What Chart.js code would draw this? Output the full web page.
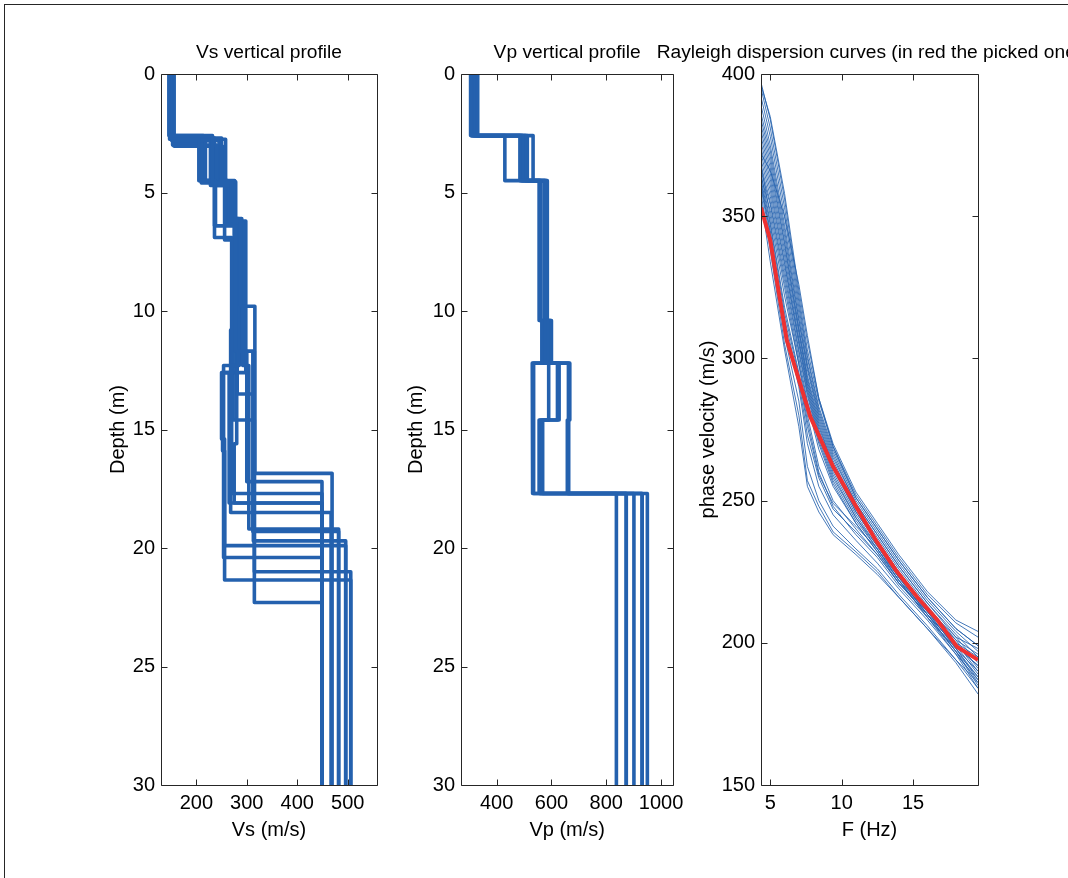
<!DOCTYPE html>
<html>
<head>
<meta charset="utf-8">
<script src="https://cdn.jsdelivr.net/npm/chart.js@4.4.0/dist/chart.umd.min.js"></script>
<style>
  html, body { margin: 0; padding: 0; background: #fff; }
  body { width: 1068px; height: 878px; position: relative; overflow: hidden; }
  .frame { position: absolute; left: 4px; top: 4px; width: 1200px; height: 1000px;
           border-top: 1px solid #262626; border-left: 1px solid #262626; }
  canvas { position: absolute; top: 0; }
</style>
</head>
<body>
<div class="frame"></div>
<canvas id="vsChart" width="337" height="878" style="left:60px;width:337px;height:878px"></canvas>
<canvas id="vpChart" width="310" height="878" style="left:380px;width:310px;height:878px"></canvas>
<canvas id="dispChart" width="428" height="878" style="left:640px;width:428px;height:878px"></canvas>
<script>
// tick labels
const depthTicks = [0, 5, 10, 15, 20, 25, 30];
const vsTicks = [200, 300, 400, 500];
const vpTicks = [400, 600, 800, 1000];
const freqTicks = [5, 10, 15];
const phaseTicks = [150, 200, 250, 300, 350, 400];

// Vs models: layer bottoms (m) and Vs per layer (last value = half-space)
const vsBottoms = [
  [2.6, 4.6, 6.2, 9.8, 16.85],
  [2.7, 4.5, 6.4, 11.7, 17.2],
  [2.8, 4.7, 6.1, 12.3, 17.7],
  [2.9, 4.6, 7.0, 12.6, 18.1],
  [2.7, 4.55, 6.2, 10.8, 18.5],
  [3.0, 4.6, 6.3, 12.3, 19.2],
  [2.65, 4.5, 6.1, 11.7, 19.3],
  [2.8, 4.65, 6.4, 13.5, 19.7],
  [2.75, 4.6, 6.9, 12.6, 15.4, 19.9],
  [2.9, 4.5, 6.2, 12.3, 20.4],
  [2.7, 4.7, 6.3, 11.7, 21.0],
  [2.8, 4.6, 6.2, 12.6, 15.9, 21.35],
  [2.6, 4.55, 6.25, 9.3, 14.6, 22.3],
  [3.05, 4.6, 6.15, 7.7, 15.6, 18.1]
];
const vsValues = [
  [146, 232, 270, 288, 316, 469],
  [150, 205, 238, 278, 300, 449],
  [152, 228, 275, 283, 270, 449],
  [155, 210, 256, 272, 265, 449],
  [148, 250, 265, 275, 268, 467],
  [153, 240, 258, 292, 304, 482],
  [149, 218, 276, 290, 312, 482],
  [151, 245, 236, 281, 313, 496],
  [147, 258, 236, 270, 250, 256, 496],
  [154, 207, 262, 285, 254, 449],
  [150, 236, 270, 295, 315, 506],
  [152, 230, 266, 298, 252, 256, 506],
  [146, 214, 278, 289, 273, 315, 449],
  [156, 252, 262, 287, 280, 275, 449]
];

// Vp models: shared layer bottoms, Vp per layer (last value = half-space)
const vpBottoms = [2.6, 4.5, 10.4, 12.2, 14.6, 17.7];
const vpValues = [
  [305, 430, 555, 565, 530, 532, 837],
  [310, 485, 558, 575, 590, 555, 873],
  [315, 495, 562, 585, 622, 560, 901],
  [320, 505, 578, 592, 628, 568, 931],
  [326, 512, 582, 598, 662, 658, 950],
  [331, 533, 585, 600, 667, 663, 931],
  [308, 490, 575, 588, 535, 535, 873]
];

// Rayleigh dispersion curves
const dispFreq = [4.35, 5, 6, 7, 7.6, 8.4, 9.4, 11, 12.5, 14, 16, 18, 19.55];
const dispVel = [
  [397, 384, 356, 322, 303, 285, 269, 252, 241, 230, 217, 207, 202],
  [395, 381, 353, 320, 301, 283, 268, 251, 240, 229, 216, 205, 199],
  [392, 378, 350, 318, 300, 282, 267, 250, 239, 228, 215, 204, 197],
  [389, 375, 347, 316, 298, 281, 266, 249, 238, 227, 214, 203, 195],
  [386, 373, 345, 314, 297, 280, 265, 249, 238, 227, 214, 202, 193],
  [384, 371, 343, 313, 296, 279, 264, 248, 237, 226, 213, 201, 191],
  [382, 369, 341, 311, 294, 278, 263, 247, 236, 225, 212, 200, 190],
  [380, 367, 340, 310, 293, 277, 262, 247, 236, 225, 212, 199, 189],
  [378, 365, 338, 309, 292, 276, 262, 246, 235, 224, 211, 198, 188],
  [376, 363, 336, 307, 291, 275, 261, 246, 235, 224, 211, 198, 187],
  [374, 361, 334, 306, 290, 274, 260, 245, 234, 223, 210, 197, 186],
  [372, 359, 333, 305, 289, 273, 259, 244, 234, 223, 210, 197, 185],
  [370, 357, 331, 303, 288, 272, 258, 244, 233, 222, 209, 196, 184],
  [368, 355, 329, 302, 287, 271, 257, 243, 233, 222, 209, 197, 188],
  [366, 354, 327, 300, 285, 270, 256, 242, 232, 221, 210, 199, 192],
  [364, 352, 325, 298, 284, 268, 255, 242, 232, 222, 211, 201, 196],
  [396, 385, 358, 324, 306, 286, 270, 253, 242, 231, 218, 208, 204],
  [372, 366, 350, 326, 308, 286, 269, 251, 240, 229, 216, 205, 199],
  [362, 345, 312, 290, 270, 255, 245, 236, 228, 219, 208, 196, 187],
  [360, 342, 308, 285, 262, 250, 241, 233, 226, 217, 206, 194, 184],
  [358, 338, 305, 280, 257, 248, 239, 232, 225, 216, 205, 193, 182],
  [356, 334, 303, 276, 255, 246, 238, 231, 224, 216, 205, 194, 186],
  [365, 348, 318, 295, 278, 260, 248, 238, 230, 220, 209, 198, 190],
  [368, 350, 322, 298, 280, 262, 250, 240, 231, 221, 210, 199, 192],
  [361, 344, 314, 292, 273, 258, 247, 239, 231, 221, 211, 200, 195],
  [363, 347, 316, 294, 276, 259, 249, 241, 233, 223, 212, 202, 198]
];
const pickedFreq = [4.35, 5.0, 5.6, 6.15, 6.85, 7.8, 9.4, 11.0, 12.4, 13.8, 15.3, 16.7, 18.1, 19.55];
const pickedVel = [353, 341.5, 323, 306.5, 295, 279.5, 262, 248, 236, 225.5, 216, 208, 198.5, 194];

const maxDepth = 30;
const blue = '#2461ae';
const fontFamily = "'Liberation Sans', Arial, Helvetica, sans-serif";
const textFont = { family: fontFamily, size: 20 };

// turn layer bottoms + velocities into a staircase
function stairs(bottoms, vels) {
  const pts = [];
  let top = 0;
  vels.forEach((v, i) => {
    const bot = i < bottoms.length ? bottoms[i] : maxDepth;
    pts.push({ x: v, y: top }, { x: v, y: bot });
    top = bot;
  });
  return pts;
}

// matlab-like box with inward ticks, plus the panel title
const matlabBox = {
  id: 'matlabBox',
  afterDatasetsDraw(chart, args, opts) {
    const { ctx, chartArea: a, scales: { x, y } } = chart;
    const L = Math.floor(a.left) + 0.5, R = Math.floor(a.right) + 0.5;
    const T = Math.floor(a.top) + 0.5, B = Math.floor(a.bottom) + 0.5;
    const len = 6;
    ctx.save();
    ctx.strokeStyle = '#262626';
    ctx.lineWidth = 1;
    ctx.beginPath();
    x.ticks.forEach(t => {
      const px = Math.round(x.getPixelForValue(t.value)) + 0.5;
      ctx.moveTo(px, B); ctx.lineTo(px, B - len);
      ctx.moveTo(px, T); ctx.lineTo(px, T + len);
    });
    y.ticks.forEach(t => {
      const py = Math.round(y.getPixelForValue(t.value)) + 0.5;
      ctx.moveTo(L, py); ctx.lineTo(L + len, py);
      ctx.moveTo(R, py); ctx.lineTo(R - len, py);
    });
    ctx.rect(L, T, R - L, B - T);
    ctx.stroke();
    ctx.fillStyle = '#000';
    ctx.font = '19.2px ' + fontFamily;
    ctx.textAlign = 'center';
    ctx.textBaseline = 'alphabetic';
    ctx.fillText(opts.text, (a.left + a.right) / 2, 58);
    ctx.restore();
  }
};

function axis(min, max, ticks, title, horizontal, size, titlePad, reverse) {
  return {
    type: 'linear',
    min: min,
    max: max,
    reverse: !!reverse,
    grid: { display: false, drawTicks: false },
    border: { display: false },
    afterBuildTicks: (s) => { s.ticks = ticks.map(v => ({ value: v })); },
    afterFit: (s) => { if (horizontal) s.height = size; else s.width = size; },
    ticks: {
      color: '#000', font: textFont, padding: 6,
      autoSkip: false, maxRotation: 0,
      callback: (v) => String(v)
    },
    title: {
      display: true, text: title, color: '#000', font: textFont,
      padding: horizontal ? { top: 0, bottom: titlePad } : { top: titlePad, bottom: 0 }
    }
  };
}

function panel(id, title, datasets, padRight, xScale, yScale) {
  return new Chart(document.getElementById(id), {
    type: 'scatter',
    data: { datasets: datasets },
    options: {
      responsive: false,
      animation: false,
      events: [],
      layout: { padding: { top: 74, right: padRight, bottom: 0, left: 0 } },
      elements: { point: { radius: 0 }, line: { tension: 0 } },
      plugins: {
        legend: { display: false },
        tooltip: { enabled: false },
        matlabBox: { text: title }
      },
      scales: { x: xScale, y: yScale }
    },
    plugins: [matlabBox]
  });
}

const profileStyle = {
  showLine: true, borderColor: blue, borderWidth: 3.6,
  borderJoinStyle: 'round', borderCapStyle: 'butt', clip: 0
};

panel('vsChart', 'Vs vertical profile',
  vsValues.map((v, i) => Object.assign({ data: stairs(vsBottoms[i], v) }, profileStyle)),
  20,
  axis(130, 558, vsTicks, 'Vs (m/s)', true, 93, 36),
  axis(0, maxDepth, depthTicks, 'Depth (m)', false, 101, 46.5, true));

panel('vpChart', 'Vp vertical profile',
  vpValues.map(v => Object.assign({ data: stairs(vpBottoms, v) }, profileStyle)),
  12,
  axis(270, 1045, vpTicks, 'Vp (m/s)', true, 93, 36),
  axis(0, maxDepth, depthTicks, 'Depth (m)', false, 81, 24, true));

const dispSets = dispVel.map(vel => ({
  data: dispFreq.map((f, i) => ({ x: f, y: vel[i] })),
  showLine: true, borderColor: 'rgba(36,97,174,0.85)', borderWidth: 1, clip: 0, order: 1
}));
dispSets.unshift({
  data: pickedFreq.map((f, i) => ({ x: f, y: pickedVel[i] })),
  showLine: true, borderColor: '#ee3131', borderWidth: 4, clip: 0, order: 0
});

panel('dispChart', 'Rayleigh dispersion curves (in red the picked one)',
  dispSets,
  90,
  axis(4.35, 19.55, freqTicks, 'F (Hz)', true, 93, 36),
  axis(150, 400, phaseTicks, 'phase velocity (m/s)', false, 121, 56));
</script>
</body>
</html>
